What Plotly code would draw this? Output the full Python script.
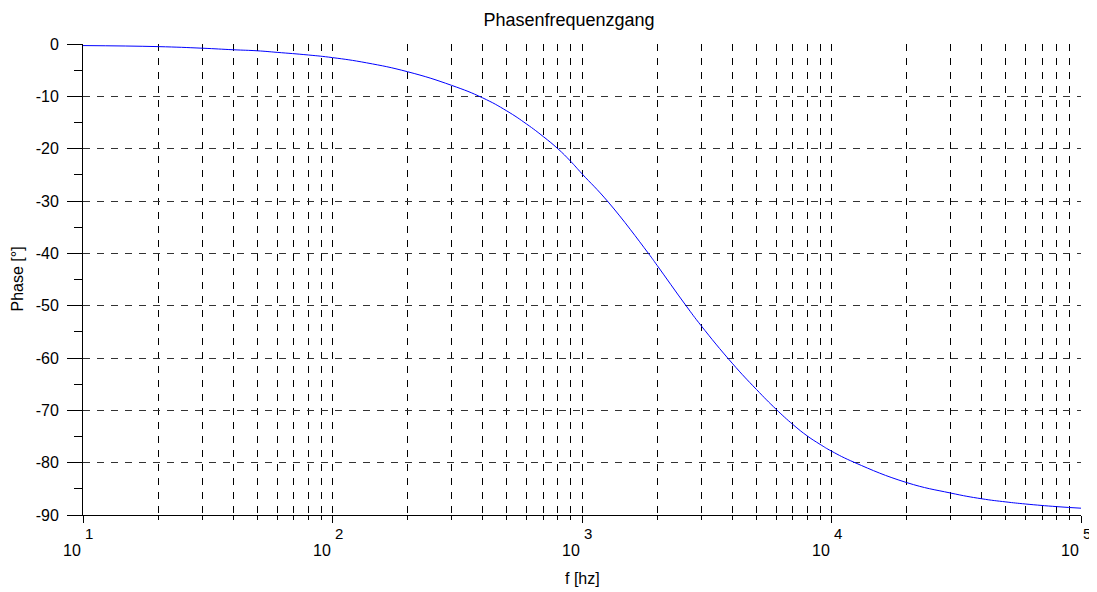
import plotly.graph_objects as go

# Data
freq_hz = [10, 20, 30, 40, 50, 60, 80, 100, 137, 200, 300, 400, 500, 600, 700,
           800, 900, 1000, 1274, 1845, 2000, 2612, 3000, 4000, 5000, 6000, 7000, 8000,
           9000, 10000, 12417, 20000, 30000, 40000, 50000, 60000, 80000, 100000]
phase_deg = [-0.3, -0.5, -0.8, -1.1, -1.3, -1.6, -2.1, -2.6, -3.6, -5.3, -7.9,
             -10.3, -12.8, -15.3, -17.7, -20.0, -22.4, -24.8, -30.2, -40.0, -42.3,
             -50.0, -53.8, -61.0, -66.0, -69.8, -72.7, -74.9, -76.5, -77.8, -80.0,
             -83.8, -85.8, -86.9, -87.5, -87.9, -88.4, -88.7]

x_decades = [10, 100, 1000, 10000, 100000]
x_decade_pos = [1, 2, 3, 4, 5]
x_exponents = ["1", "2", "3", "4", "5"]
x_minor = [m * d for d in [10, 100, 1000, 10000] for m in range(2, 10)]
y_major = [0, -10, -20, -30, -40, -50, -60, -70, -80, -90]
y_minor = [-5, -15, -25, -35, -45, -55, -65, -75, -85]

title_text = "Phasenfrequenzgang"
x_title = "f [hz]"
y_title = "Phase [°]"

FONT = "Liberation Sans, Arial, Helvetica, sans-serif"

# the page body has an 8px margin, so the figure is offset by 8px
W, H = 1089, 584
L, R, T, B = 75, 16, 36, 77
PW = W - L - R

fig = go.Figure()
fig.add_trace(go.Scatter(x=freq_hz, y=phase_deg, mode="lines",
                         line=dict(color="#0000ff", width=1, shape="spline", smoothing=1.3),
                         showlegend=False, hoverinfo="x+y"))

fig.update_layout(
    width=W, height=H,
    paper_bgcolor="white", plot_bgcolor="white",
    margin=dict(l=L, r=R, t=T, b=B, pad=0),
    font=dict(family=FONT, size=16, color="black"),
    title=dict(text=title_text, x=(561 - L) / PW, xanchor="center", xref="paper",
               y=1 - 12 / H, yanchor="middle", yref="container",
               font=dict(size=18, family=FONT, color="black")),
    xaxis=dict(type="log", range=[1, 5], showline=True, linecolor="black", linewidth=1,
               tickmode="array", tickvals=x_decades, showticklabels=False,
               ticks="outside", ticklen=7, tickcolor="black", tickwidth=1,
               showgrid=True, gridcolor="black", gridwidth=1, griddash="7px,7px",
               zeroline=False, mirror=False,
               minor=dict(tickmode="array", tickvals=x_minor, ticks="outside", ticklen=4,
                          tickcolor="black", showgrid=True, gridcolor="black",
                          gridwidth=1, griddash="7px,7px")),
    yaxis=dict(range=[-90, 0], showline=True, linecolor="black", linewidth=1,
               tickmode="array", tickvals=y_major, ticktext=[str(v) for v in y_major],
               ticks="outside", ticklen=15, tickcolor="black", tickwidth=1,
               ticklabelstandoff=5,
               tickfont=dict(size=16, family=FONT, color="black"),
               showgrid=True, gridcolor="#333333", gridwidth=1, griddash="7px,7px",
               zeroline=False, mirror=False,
               minor=dict(tickmode="array", tickvals=y_minor, ticks="outside", ticklen=8,
                          tickcolor="black", showgrid=False)),
)

annotations = []
for pos, e in zip(x_decade_pos, x_exponents):
    annotations.append(dict(x=pos, y=0, xref="x", yref="paper",
                            text="10", showarrow=False, xanchor="right", yanchor="middle",
                            yshift=-35, xshift=0, font=dict(size=16, family=FONT, color="black")))
    annotations.append(dict(x=pos, y=0, xref="x", yref="paper",
                            text=e, showarrow=False, xanchor="left", yanchor="middle",
                            yshift=-18, xshift=0, font=dict(size=15, family=FONT, color="black")))
annotations.append(dict(x=0.5, y=0, xref="paper", yref="paper", text=x_title, showarrow=False,
                        xanchor="center", yanchor="middle", yshift=-63.5,
                        font=dict(size=16, family=FONT, color="black")))
annotations.append(dict(x=0, y=0.5, xref="paper", yref="paper", text=y_title, showarrow=False,
                        xanchor="center", yanchor="middle", xshift=-66, textangle=-90,
                        font=dict(size=16, family=FONT, color="black")))
fig.update_layout(annotations=annotations)

fig.write_html("out.html")
